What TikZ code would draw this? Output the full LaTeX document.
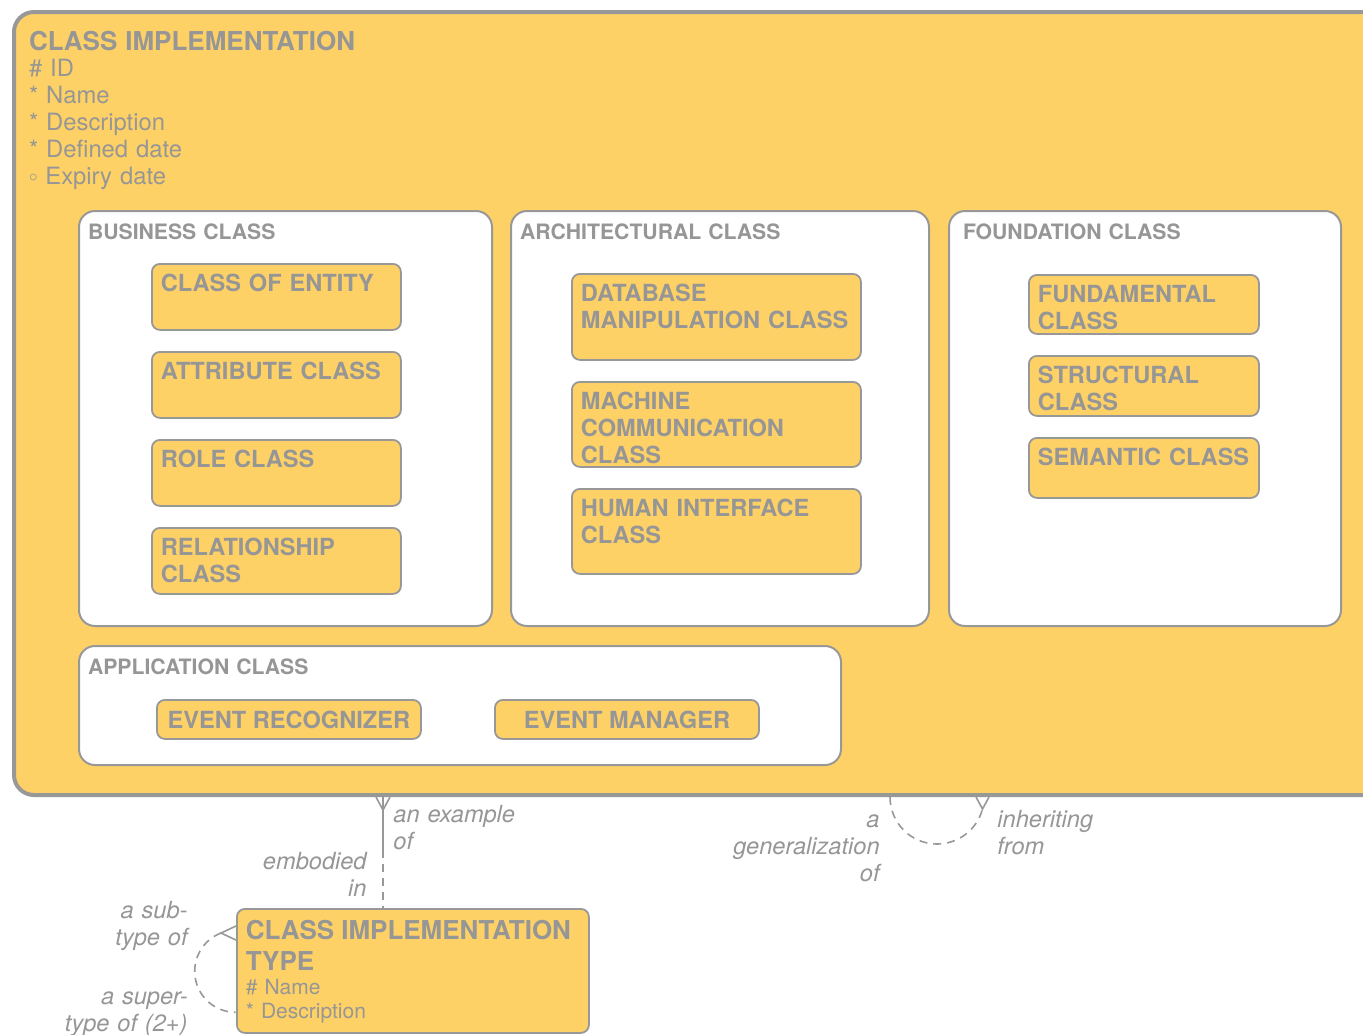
\documentclass[tikz,border=0pt]{standalone}
\usepackage{fontspec}
\setmainfont{TeX Gyre Heros}
\definecolor{boxfill}{RGB}{254,209,102}
\definecolor{linegray}{RGB}{152,152,152}
\definecolor{textgray}{RGB}{150,150,150}
\tikzset{
  mainbox/.style = {rectangle, draw=linegray, line width=2pt, fill=boxfill, rounded corners=10pt, anchor=north west, align=left, text=textgray, inner xsep=7.5pt, inner ysep=8pt, font=\fontsize{11.9}{13.5}\selectfont},
  classgroup/.style 2 args = {rectangle, draw=linegray, line width=1pt, fill=white, rounded corners=8pt, anchor=north west, align=left, text width=#1, text height=8pt, text depth=#2, inner xsep=4.5pt, inner ysep=6pt, text=textgray, font=\fontsize{10.6}{12}\selectfont\bfseries},
  entity/.style 2 args = {rectangle, draw=linegray, line width=0.9pt, fill=boxfill, rounded corners=4pt, anchor=north west, align=left, text width=#1, text height=9pt, text depth=#2, inner xsep=4.5pt, inner ysep=5pt, text=textgray, font=\fontsize{11.8}{13.5}\selectfont\bfseries},
  eventbox/.style = {rectangle, draw=linegray, line width=0.9pt, fill=boxfill, rounded corners=4pt, anchor=north west, minimum width=132pt, minimum height=19.5pt, text=textgray, font=\fontsize{11.8}{13.5}\selectfont\bfseries},
  rel/.style = {draw=linegray, line width=0.8pt},
  reldash/.style = {rel, dash pattern=on 4pt off 3pt},
  phrase/.style = {text=textgray, font=\fontsize{11.8}{13.5}\selectfont\itshape, inner sep=0pt, text height=9pt, text width=#1}
}

\begin{document}
\begin{tikzpicture}[x=0.5pt, y=-0.5pt]
\useasboundingbox (0,0) rectangle (1363,1034);

% main entity with its attributes
\node[mainbox, text width=670pt, text height=11pt, text depth=364.5pt] (climp) at (12,10)
  {{\fontsize{13}{13}\selectfont\bfseries CLASS IMPLEMENTATION}\\[-0.5pt]
   \# ID\\ {*} Name\\ {*} Description\\ {*} Defined date\\ \raisebox{1.2pt}{$\scriptstyle\circ$} Expiry date};

% sub-type groups
\node[classgroup={197.5pt}{187.5pt}] (bus)   at (78,210)  {BUSINESS CLASS};
\node[classgroup={200pt}{187.5pt}]   (arch)  at (510,210) {ARCHITECTURAL CLASS};
\node[classgroup={187pt}{187.5pt}]   (found) at (948,210) {\hspace{2.5pt}FOUNDATION CLASS};
\node[classgroup={372pt}{39.5pt}]    (app)   at (78,645)  {APPLICATION CLASS};

% business class
\node[entity={115.5pt}{14pt}] (ent)  at (151,263) {CLASS OF ENTITY};
\node[entity={115.5pt}{14pt}] (attr) at (151,351) {ATTRIBUTE CLASS};
\node[entity={115.5pt}{14pt}] (role) at (151,439) {ROLE CLASS};
\node[entity={115.5pt}{14pt}] (rels) at (151,527) {RELATIONSHIP\\CLASS};

% architectural class
\node[entity={135.5pt}{24pt}]   (dbm) at (571,273) {DATABASE\\MANIPULATION~CLASS};
\node[entity={135.5pt}{23.5pt}] (mcc) at (571,381) {MACHINE\\COMMUNICATION\\CLASS};
\node[entity={135.5pt}{23.5pt}] (hic) at (571,488) {HUMAN INTERFACE\\CLASS};

% foundation class
\node[entity={106pt}{10.5pt}] (fund) at (1028,274) {FUNDAMENTAL\\CLASS};
\node[entity={106pt}{11pt}]   (str)  at (1028,355) {STRUCTURAL\\CLASS};
\node[entity={106pt}{11pt}]   (sem)  at (1028,437) {SEMANTIC~CLASS};

% application class
\node[eventbox] (evrec) at (156,699) {EVENT RECOGNIZER};
\node[eventbox] (evman) at (494,699) {EVENT MANAGER};

% type entity below
\node[entity={167pt}{41.5pt}, text height=10.5pt, font=\fontsize{10.5}{12}\selectfont] (cltype) at (236,908)
  {{\fontsize{13}{15.5}\selectfont\bfseries CLASS~IMPLEMENTATION\\TYPE\par}
   \# Name\\ {*} Description};

% ----- RELATIONSHIPS -----
% class implementation -- type
\coordinate (r1) at (383,850);
\draw[rel] (r1) -- (r1 |- climp.south);
\draw[reldash] (r1) -- (r1 |- cltype.north);
\draw[rel] (r1 |- climp.south) ++(-7,0) -- ++(7,13) -- ++(7,-13);
\node[phrase=70pt, align=left, anchor=north west]  (ex)  at (393,804) {an example\\of};
\node[phrase=60pt, align=right, anchor=north east] (emb) at (367,851) {embodied\\in};

% type hierarchy (self loop)
\draw[rel] ([yshift=-9pt]cltype.north west) -- ++(-15,7) -- ++(15,7);
\draw[reldash] ([xshift=-7.5pt, yshift=-12.5pt]cltype.north west) arc[start angle=249, end angle=90, radius=41];
\node[phrase=70pt, align=right, anchor=north east] (sub) at (188,900) {a sub-\\type of};
\node[phrase=70pt, align=right, anchor=north east] (sup) at (188,986) {a super-\\type of (2+)};

% generalization (self loop)
\coordinate (g0) at (890,0);
\draw[reldash] (g0 |- climp.south) arc[start angle=180, end angle=15, radius=47];
\draw[rel] (g0 |- climp.south) ++(86,0) -- ++(6.5,12) -- ++(6.5,-12);
\node[phrase=80pt, align=right, anchor=north east] (gen) at (880,809) {a\\generalization\\of};
\node[phrase=60pt, align=left, anchor=north west]  (inh) at (997,809) {inheriting\\from};

\end{tikzpicture}
\end{document}
